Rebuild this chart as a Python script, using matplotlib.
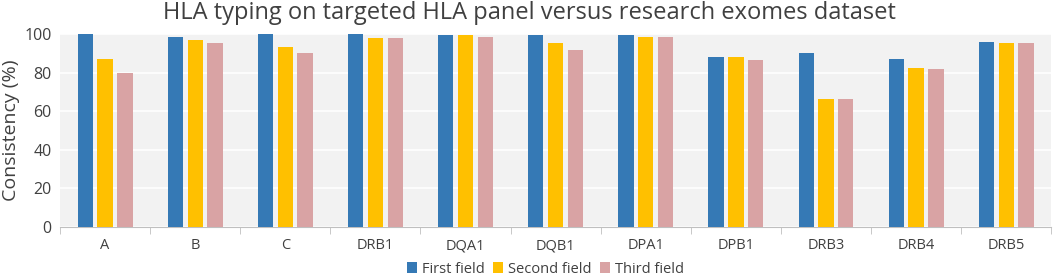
import numpy as np
import matplotlib.pyplot as plt

plt.rcParams['font.family'] = ['Open Sans', 'DejaVu Sans']

loci = ['A', 'B', 'C', 'DRB1', 'DQA1', 'DQB1', 'DPA1', 'DPB1', 'DRB3', 'DRB4', 'DRB5']
first_field = [100, 98.4, 100, 100, 99.6, 99.6, 99.6, 87.9, 90.0, 86.9, 96.0]
second_field = [86.9, 96.9, 93.1, 98.1, 99.6, 95.5, 98.4, 87.9, 66.2, 82.4, 95.5]
third_field = [79.6, 95.2, 90.0, 98.1, 98.4, 91.5, 98.4, 86.5, 66.2, 81.7, 95.5]
series = ['First field', 'Second field', 'Third field']
colors = ['#3579b5', '#ffc000', '#d9a3a4']

fig = plt.figure(figsize=(10.59, 2.8), dpi=100)
ax = fig.add_axes([0.0567, 0.189, 0.936, 0.69])
ax.set_facecolor('#f2f2f2')

x = np.arange(len(loci))
w = 0.17
step = 0.22
for i, (vals, c, lab) in enumerate(zip([first_field, second_field, third_field], colors, series)):
    ax.bar(x + (i - 1) * step, vals, width=w, color=c, label=lab, zorder=3)

ax.set_xlim(-0.5, len(loci) - 0.5)
ax.set_ylim(0, 100)
ax.set_yticks(range(0, 101, 20))
ax.grid(axis='y', color='white', linewidth=1.2, zorder=1)
ax.set_axisbelow(True)
ax.set_xticks(x)
ax.set_xticklabels(loci, fontsize=10.5, color='#404040')
ax.set_xticks(np.arange(-0.5, len(loci)), minor=True)
ax.tick_params(axis='x', which='major', length=0, pad=8)
ax.tick_params(axis='x', which='minor', length=5, color='#bfbfbf')
ax.tick_params(axis='y', length=0, labelsize=11.5, labelcolor='#404040', pad=6)
for s in ['top', 'right', 'left']:
    ax.spines[s].set_visible(False)
ax.spines['bottom'].set_color('#bfbfbf')

ax.set_ylabel('Consistency (%)', fontsize=14, color='#404040', labelpad=3)
fig.text(0.5, 0.955, 'HLA typing on targeted HLA panel versus research exomes dataset',
         fontsize=17, color='#404040', ha='center', va='center')

fig.legend(loc='lower center', bbox_to_anchor=(0.515, -0.035), ncol=3, frameon=False,
           fontsize=10.5, handlelength=0.7, handleheight=0.7, handletextpad=0.3,
           columnspacing=0.6, labelcolor='#404040')

fig.savefig('out.png', dpi=100)
